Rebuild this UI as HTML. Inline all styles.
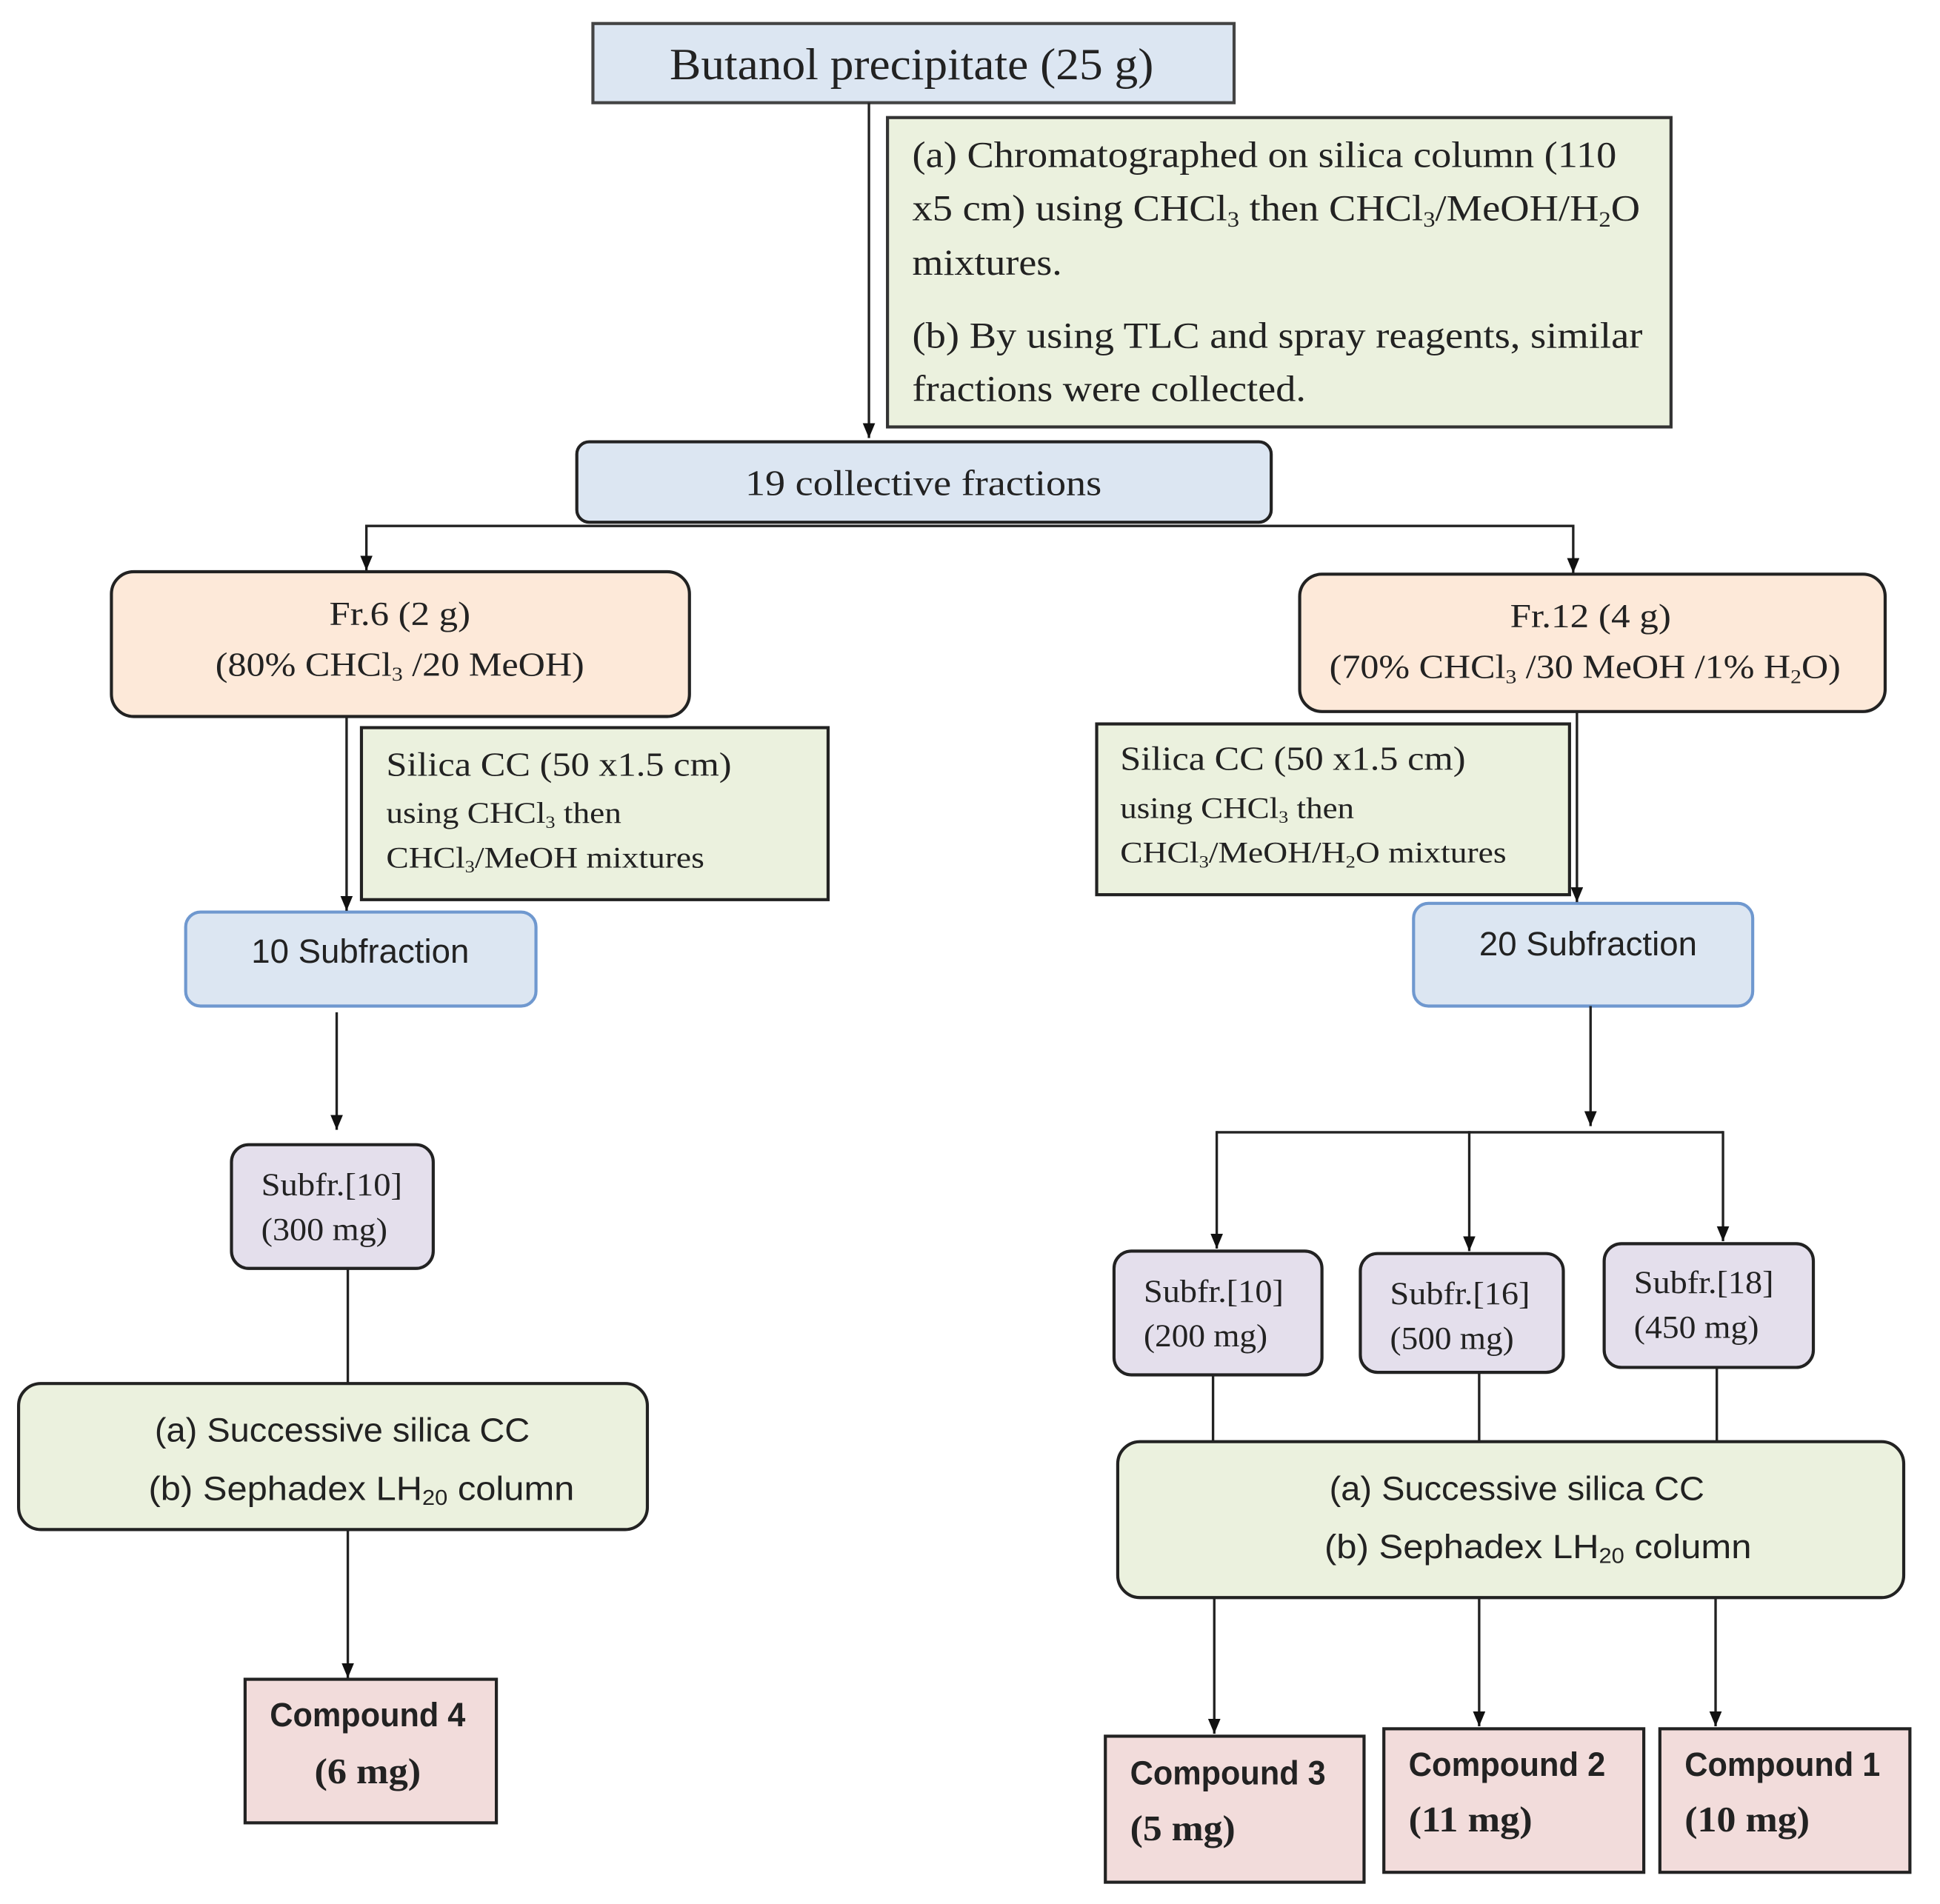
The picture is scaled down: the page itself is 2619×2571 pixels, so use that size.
<!DOCTYPE html>
<html><head><meta charset="utf-8"><style>
html,body{margin:0;padding:0;background:#fff;}
svg{display:block;}
.s{font-family:"Liberation Serif",serif;fill:#222;}
.a{font-family:"Liberation Sans",sans-serif;fill:#222;}
</style></head><body>
<svg width="2619" height="2571" viewBox="0 0 1567.3 1538.6" xmlns="http://www.w3.org/2000/svg">
<defs>
<marker id="ar" markerWidth="12" markerHeight="10" refX="12" refY="5" orient="auto" markerUnits="userSpaceOnUse" viewBox="0 0 12 10">
<path d="M0,0 L12,5 L0,10 z" fill="#111"/>
</marker>
</defs>
<g stroke="#222" stroke-width="2.5">
<rect x="479" y="19" width="518" height="64" fill="#dce6f2" stroke="#444"/>
<rect x="717" y="95" width="633" height="250" fill="#ebf1de" stroke="#333"/>
<rect x="466" y="357" width="561" height="65" rx="10" fill="#dce6f2"/>
<rect x="90" y="462" width="467" height="117" rx="18" fill="#fde9d9"/>
<rect x="1050" y="464" width="473" height="111" rx="18" fill="#fde9d9"/>
<rect x="292" y="588" width="377" height="139" fill="#ebf1de"/>
<rect x="886" y="585" width="382" height="138" fill="#ebf1de"/>
<rect x="150" y="737" width="283" height="76" rx="12" fill="#dce6f2" stroke="#6f98cf"/>
<rect x="1142" y="730" width="274" height="83" rx="12" fill="#dce6f2" stroke="#6f98cf"/>
<rect x="187" y="925" width="163" height="100" rx="14" fill="#e4dfec"/>
<rect x="15" y="1118" width="508" height="118" rx="18" fill="#ebf1de"/>
<rect x="198" y="1357" width="203" height="116" fill="#f2dcdb"/>
<rect x="900" y="1011" width="168" height="100" rx="14" fill="#e4dfec"/>
<rect x="1099" y="1013" width="164" height="96" rx="14" fill="#e4dfec"/>
<rect x="1296" y="1005" width="169" height="100" rx="14" fill="#e4dfec"/>
<rect x="903" y="1165" width="635" height="126" rx="18" fill="#ebf1de"/>
<rect x="893" y="1403" width="209" height="118" fill="#f2dcdb"/>
<rect x="1118" y="1397" width="210" height="116" fill="#f2dcdb"/>
<rect x="1341" y="1397" width="202" height="116" fill="#f2dcdb"/>
</g>
<g stroke="#222" stroke-width="2" fill="none">
<line x1="702" y1="83" x2="702" y2="354" marker-end="url(#ar)"/>
<line x1="296" y1="425" x2="1271" y2="425"/>
<line x1="296" y1="424" x2="296" y2="461" marker-end="url(#ar)"/>
<line x1="1271" y1="424" x2="1271" y2="463" marker-end="url(#ar)"/>
<line x1="280" y1="579" x2="280" y2="736" marker-end="url(#ar)"/>
<line x1="1274" y1="575" x2="1274" y2="729" marker-end="url(#ar)"/>
<line x1="272" y1="818" x2="272" y2="913" marker-end="url(#ar)"/>
<line x1="281" y1="1025" x2="281" y2="1118"/>
<line x1="281" y1="1236" x2="281" y2="1356" marker-end="url(#ar)"/>
<line x1="1285" y1="813" x2="1285" y2="910" marker-end="url(#ar)"/>
<line x1="983" y1="915" x2="1392" y2="915"/>
<line x1="983" y1="914" x2="983" y2="1009" marker-end="url(#ar)"/>
<line x1="1187" y1="914" x2="1187" y2="1011" marker-end="url(#ar)"/>
<line x1="1392" y1="914" x2="1392" y2="1003" marker-end="url(#ar)"/>
<line x1="980" y1="1111" x2="980" y2="1165"/>
<line x1="1195" y1="1109" x2="1195" y2="1165"/>
<line x1="1387" y1="1105" x2="1387" y2="1165"/>
<line x1="981" y1="1291" x2="981" y2="1401" marker-end="url(#ar)"/>
<line x1="1195" y1="1291" x2="1195" y2="1395" marker-end="url(#ar)"/>
<line x1="1386" y1="1291" x2="1386" y2="1395" marker-end="url(#ar)"/>
</g>
<text class="s" x="541" y="64" font-size="36" textLength="391" lengthAdjust="spacingAndGlyphs">Butanol precipitate (25 g)</text>
<g class="s" font-size="30">
<text x="737" y="135" textLength="569" lengthAdjust="spacingAndGlyphs">(a) Chromatographed on silica column (110</text>
<text x="737" y="178" textLength="588" lengthAdjust="spacingAndGlyphs">x5 cm) using CHCl<tspan font-size="18" dy="5">3</tspan><tspan dy="-5"> then CHCl</tspan><tspan font-size="18" dy="5">3</tspan><tspan dy="-5">/MeOH/H</tspan><tspan font-size="18" dy="5">2</tspan><tspan dy="-5">O</tspan></text>
<text x="737" y="222" textLength="121" lengthAdjust="spacingAndGlyphs">mixtures.</text>
<text x="737" y="281" textLength="590" lengthAdjust="spacingAndGlyphs">(b) By using TLC and spray reagents, similar</text>
<text x="737" y="324" textLength="318" lengthAdjust="spacingAndGlyphs">fractions were collected.</text>
</g>
<text class="s" x="602" y="400" font-size="29" textLength="288" lengthAdjust="spacingAndGlyphs">19 collective fractions</text>
<g class="s" font-size="27">
<text x="266" y="505" textLength="114" lengthAdjust="spacingAndGlyphs">Fr.6 (2 g)</text>
<text x="174" y="546" textLength="298" lengthAdjust="spacingAndGlyphs">(80% CHCl<tspan font-size="16" dy="4">3</tspan><tspan dy="-4"> /20 MeOH)</tspan></text>
<text x="1220" y="507" textLength="130" lengthAdjust="spacingAndGlyphs">Fr.12 (4 g)</text>
<text x="1074" y="548" textLength="413" lengthAdjust="spacingAndGlyphs">(70% CHCl<tspan font-size="16" dy="4">3</tspan><tspan dy="-4"> /30 MeOH /1% H</tspan><tspan font-size="16" dy="4">2</tspan><tspan dy="-4">O)</tspan></text>
</g>
<g class="s" font-size="27">
<text x="312" y="627" textLength="279" lengthAdjust="spacingAndGlyphs">Silica CC (50 x1.5 cm)</text>
<text x="312" y="665" font-size="24" textLength="190" lengthAdjust="spacingAndGlyphs">using CHCl<tspan font-size="14" dy="4">3</tspan><tspan dy="-4"> then</tspan></text>
<text x="312" y="701" font-size="24" textLength="257" lengthAdjust="spacingAndGlyphs">CHCl<tspan font-size="14" dy="4">3</tspan><tspan dy="-4">/MeOH mixtures</tspan></text>
<text x="905" y="622" textLength="279" lengthAdjust="spacingAndGlyphs">Silica CC (50 x1.5 cm)</text>
<text x="905" y="661" font-size="24" textLength="189" lengthAdjust="spacingAndGlyphs">using CHCl<tspan font-size="14" dy="4">3</tspan><tspan dy="-4"> then</tspan></text>
<text x="905" y="697" font-size="24" textLength="312" lengthAdjust="spacingAndGlyphs">CHCl<tspan font-size="14" dy="4">3</tspan><tspan dy="-4">/MeOH/H</tspan><tspan font-size="14" dy="4">2</tspan><tspan dy="-4">O mixtures</tspan></text>
</g>
<text class="a" x="203" y="778" font-size="27" textLength="176" lengthAdjust="spacingAndGlyphs">10 Subfraction</text>
<text class="a" x="1195" y="772" font-size="27" textLength="176" lengthAdjust="spacingAndGlyphs">20 Subfraction</text>
<g class="s" font-size="26">
<text x="211" y="966" textLength="114" lengthAdjust="spacingAndGlyphs">Subfr.[10]</text><text x="211" y="1002" textLength="102" lengthAdjust="spacingAndGlyphs">(300 mg)</text>
<text x="924" y="1052" textLength="113" lengthAdjust="spacingAndGlyphs">Subfr.[10]</text><text x="924" y="1088" textLength="100" lengthAdjust="spacingAndGlyphs">(200 mg)</text>
<text x="1123" y="1054" textLength="113" lengthAdjust="spacingAndGlyphs">Subfr.[16]</text><text x="1123" y="1090" textLength="100" lengthAdjust="spacingAndGlyphs">(500 mg)</text>
<text x="1320" y="1045" textLength="113" lengthAdjust="spacingAndGlyphs">Subfr.[18]</text><text x="1320" y="1081" textLength="101" lengthAdjust="spacingAndGlyphs">(450 mg)</text>
</g>
<g class="a" font-size="27">
<text x="125" y="1165" textLength="303" lengthAdjust="spacingAndGlyphs">(a)  Successive silica CC</text>
<text x="120" y="1212" textLength="344" lengthAdjust="spacingAndGlyphs">(b)  Sephadex LH<tspan font-size="17" dy="4">20</tspan><tspan dy="-4"> column</tspan></text>
<text x="1074" y="1212" textLength="303" lengthAdjust="spacingAndGlyphs">(a)  Successive silica CC</text>
<text x="1070" y="1259" textLength="345" lengthAdjust="spacingAndGlyphs">(b)  Sephadex LH<tspan font-size="17" dy="4">20</tspan><tspan dy="-4"> column</tspan></text>
</g>
<g font-size="27" font-weight="bold">
<text class="a" x="218" y="1395" textLength="158" lengthAdjust="spacingAndGlyphs">Compound 4</text>
<text class="s" x="254" y="1441" font-size="29" textLength="86" lengthAdjust="spacingAndGlyphs">(6 mg)</text>
<text class="a" x="913" y="1442" textLength="158" lengthAdjust="spacingAndGlyphs">Compound 3</text>
<text class="s" x="913" y="1487" font-size="29" textLength="85" lengthAdjust="spacingAndGlyphs">(5 mg)</text>
<text class="a" x="1138" y="1435" textLength="159" lengthAdjust="spacingAndGlyphs">Compound 2</text>
<text class="s" x="1138" y="1480" font-size="29" textLength="100" lengthAdjust="spacingAndGlyphs">(11 mg)</text>
<text class="a" x="1361" y="1435" textLength="158" lengthAdjust="spacingAndGlyphs">Compound 1</text>
<text class="s" x="1361" y="1480" font-size="29" textLength="101" lengthAdjust="spacingAndGlyphs">(10 mg)</text>
</g>
</svg>
</body></html>
